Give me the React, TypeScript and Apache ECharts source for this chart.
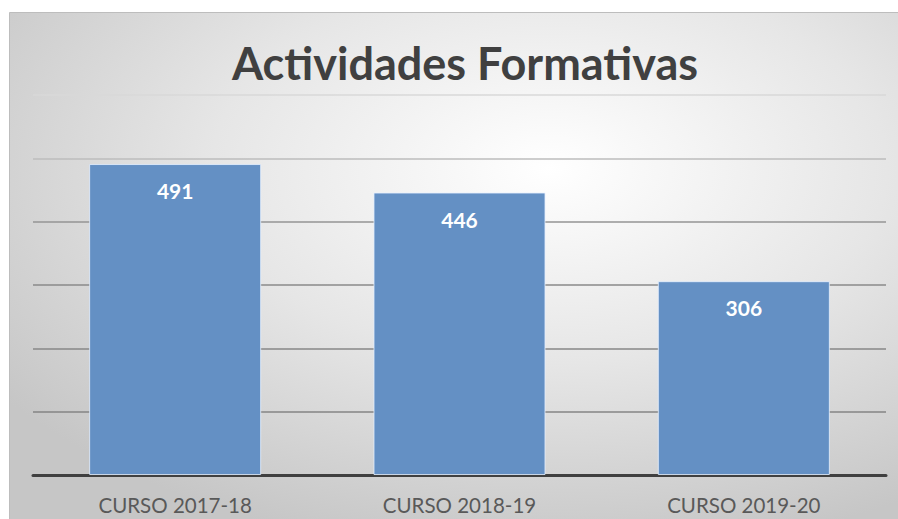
import React, { useEffect, useRef } from "react";
import * as echarts from "echarts";

const categories = ["CURSO 2017-18", "CURSO 2018-19", "CURSO 2019-20"];
const values = [491, 446, 306];
const titleText = "Actividades Formativas";

export default function App() {
  const ref = useRef<HTMLDivElement>(null);
  useEffect(() => {
    const chart = echarts.init(ref.current!, null, { renderer: "svg" });
    chart.setOption({
      animation: false,
      graphic: [
        {
          type: "rect",
          z: -10,
          silent: true,
          shape: { x: 9.5, y: 12.5, width: 900, height: 520 },
          style: {
            fill: new echarts.graphic.RadialGradient(0.6, 0.3, 0.75, [
              { offset: 0, color: "#ffffff" },
              { offset: 0.5, color: "#e6e6e6" },
              { offset: 1, color: "#c6c6c6" },
            ]),
            stroke: "#bdbdbd",
            lineWidth: 1,
          },
        },
      ],
      title: {
        text: titleText,
        left: 460,
        textAlign: "center",
        top: 35,
        textStyle: {
          fontFamily: "Lato",
          fontWeight: "bold",
          fontSize: 45,
          color: "#404040",
        },
      },
      grid: { left: 33, right: 12, top: 95, bottom: 44 },
      xAxis: {
        type: "category",
        data: categories,
        axisLine: { show: true, lineStyle: { color: "#404040", width: 3 } },
        axisTick: { show: false },
        axisLabel: {
          fontFamily: "Lato",
          fontSize: 20.5,
          color: "#595959",
          margin: 19,
        },
      },
      yAxis: {
        type: "value",
        min: 0,
        max: 600,
        interval: 100,
        axisLabel: { show: false },
        axisLine: { show: false },
        axisTick: { show: false },
        splitLine: {
          show: true,
          lineStyle: {
            width: 1.5,
            color: [
              "#404040",
              "#858585",
              "#878787",
              "#8a8a8a",
              "#959595",
              "#bdbdbd",
              "#d9d9d9",
            ],
          },
        },
      },
      series: [
        {
          type: "bar",
          data: values,
          barWidth: "60.5%",
          itemStyle: {
            color: "#6490c4",
            borderColor: "rgba(230,240,255,0.8)",
            borderWidth: 1,
          },
          label: {
            show: true,
            position: "insideTop",
            distance: 16,
            color: "#ffffff",
            fontFamily: "Lato",
            fontWeight: "bold",
            fontSize: 21,
          },
        },
      ],
    });
    return () => chart.dispose();
  }, []);
  return (
    <div
      ref={ref}
      style={{ position: "absolute", left: 0, top: 0, width: 898, height: 519 }}
    />
  );
}
